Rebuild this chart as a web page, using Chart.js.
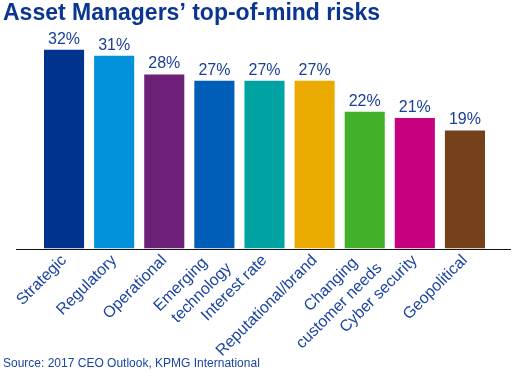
<!DOCTYPE html>
<html>
<head>
<meta charset="utf-8">
<script src="https://cdn.jsdelivr.net/npm/chart.js@4/dist/chart.umd.min.js"></script>
<style>
  html, body { margin: 0; padding: 0; background: #fff; }
  #wrap { width: 512px; height: 371px; }
</style>
</head>
<body>
<div id="wrap"><canvas id="chart" width="512" height="371"></canvas></div>
<script>
// first line of two-line labels ends a little earlier in the original
const categories = ['Strategic', 'Regulatory', 'Operational', ['Emerging   ', 'technology'], 'Interest rate',
  'Reputational/brand', ['Changing   ', 'customer needs'], 'Cyber security', 'Geopolitical'];
const riskShare = [32, 31, 28, 27, 27, 27, 22, 21, 19];
const barColors = ['#00338D', '#0091DA', '#6D2077', '#005EB8', '#00A3A1', '#EAAA00', '#43B02A', '#C6007E', '#753F19'];

const textBlue = '#1c45a3';

// two-line labels sit centred on the tick, not below it
const liftMultiline = {
  id: 'liftMultiline',
  beforeDraw(chart) {
    const xs = chart.scales.x;
    xs.getLabelItems(chart.chartArea).forEach(item => {
      if (Array.isArray(item.label)) item.options.translation[1] -= 7;
    });
  }
};

// value labels above bars + baseline line
const barExtras = {
  id: 'barExtras',
  afterDatasetsDraw(chart) {
    const ctx = chart.ctx;
    const meta = chart.getDatasetMeta(0);
    ctx.save();
    ctx.font = '16px "Liberation Sans", Arial, sans-serif';
    ctx.fillStyle = '#1b3f97';
    ctx.textAlign = 'center';
    ctx.textBaseline = 'alphabetic';
    meta.data.forEach((bar, i) => {
      ctx.fillText(riskShare[i] + '%', bar.x, bar.y - 6);
    });
    const y0 = chart.scales.y.getPixelForValue(0);
    ctx.strokeStyle = '#111';
    ctx.lineWidth = 1;
    ctx.beginPath();
    ctx.moveTo(16, Math.round(y0) + 0.5);
    ctx.lineTo(511, Math.round(y0) + 0.5);
    ctx.stroke();
    ctx.restore();
  }
};

new Chart(document.getElementById('chart'), {
  type: 'bar',
  data: {
    labels: categories,
    datasets: [{
      data: riskShare,
      backgroundColor: barColors,
      borderWidth: 0,
      barPercentage: 0.8,
      categoryPercentage: 1
    }]
  },
  options: {
    responsive: false,
    animation: false,
    layout: { padding: { left: 3, right: 22, top: 0, bottom: 0 } },
    plugins: {
      legend: { display: false },
      tooltip: { enabled: false },
      title: {
        display: true,
        text: 'Asset Managers\u2019 top-of-mind risks',
        align: 'start',
        color: '#0a3592',
        font: { family: '"Liberation Sans", Arial, sans-serif', size: 23, weight: 'bold' },
        padding: { top: 0, bottom: 22 }
      },
      subtitle: {
        display: true,
        position: 'bottom',
        text: 'Source: 2017 CEO Outlook, KPMG International',
        align: 'start',
        color: textBlue,
        font: { family: '"Liberation Sans", Arial, sans-serif', size: 12 },
        padding: { top: 0, bottom: 0 }
      }
    },
    scales: {
      x: {
        grid: { display: false, drawTicks: false },
        border: { display: false },
        ticks: {
          color: textBlue,
          font: { family: '"Liberation Sans", Arial, sans-serif', size: 16, lineHeight: 1.3 },
          minRotation: 45,
          maxRotation: 45,
          autoSkip: false,
          padding: 2
        },
        afterFit(scale) { scale.height = 108; }
      },
      y: {
        min: 0,
        max: 32,
        grid: { display: false },
        border: { display: false },
        ticks: { display: false },
        afterFit(scale) { scale.width = 36; }
      }
    }
  },
  plugins: [liftMultiline, barExtras]
});
</script>
</body>
</html>
